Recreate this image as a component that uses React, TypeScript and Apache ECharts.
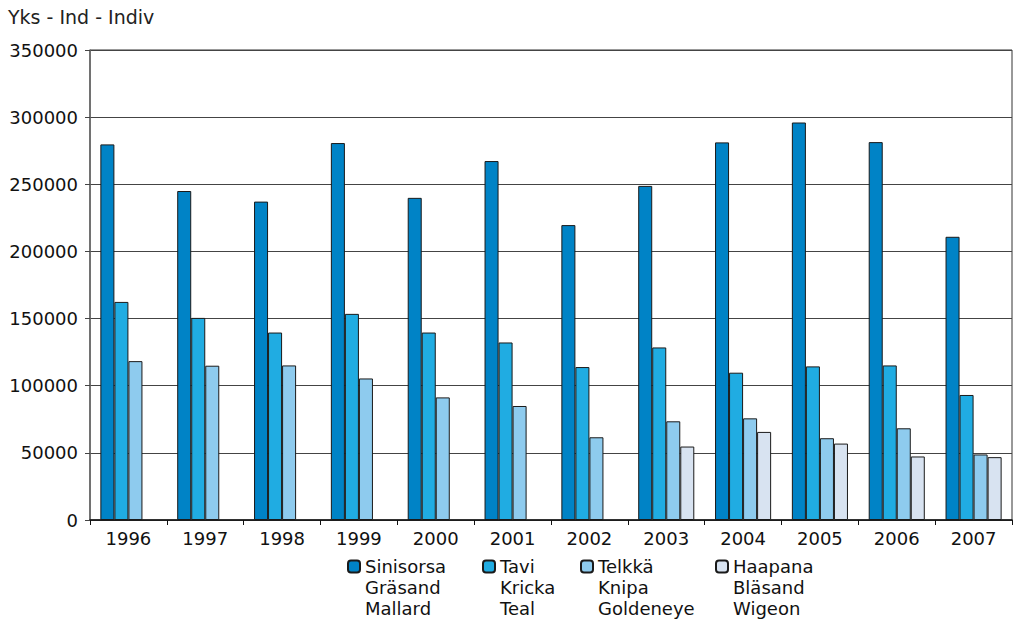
import React, { useEffect, useRef } from "react";
import * as echarts from "echarts";

const years = ["1996", "1997", "1998", "1999", "2000", "2001", "2002", "2003", "2004", "2005", "2006", "2007"];
const sinisorsa = [279700, 245000, 237100, 280700, 239900, 267300, 219600, 248800, 281200, 296000, 281400, 210900];
const tavi = [162400, 150500, 139600, 153500, 139600, 132200, 113900, 128500, 109700, 114400, 115100, 93100];
const telkka = [118300, 114900, 115100, 105400, 91300, 84900, 61600, 73500, 75700, 60900, 68300, 48800];
const haapana = [null, null, null, null, null, null, null, 54700, 65600, 56900, 47300, 46800];

const seriesNames = ["Sinisorsa\nGräsand\nMallard", "Tavi\nKricka\nTeal", "Telkkä\nKnipa\nGoldeneye", "Haapana\nBläsand\nWigeon"];
const seriesColors = ["#0083c6", "#20ace2", "#8ecbee", "#d8e3f1"];
const seriesData = [sinisorsa, tavi, telkka, haapana];
const legendLeft = [347, 482, 580, 715];

const FONT = "DejaVu Sans";

export default function App() {
  const ref = useRef<HTMLDivElement>(null);
  useEffect(() => {
    document.body.style.margin = "0";
    const chart = echarts.init(ref.current!, null, { renderer: "svg" });
    chart.setOption({
      animation: false,
      textStyle: { fontFamily: FONT },
      title: {
        text: "Yks - Ind - Indiv",
        left: 3,
        top: 2,
        textStyle: { fontFamily: FONT, fontSize: 19, fontWeight: "normal", color: "#222" },
      },
      legend: seriesNames.map((n, i) => ({
        data: [n],
        left: legendLeft[i],
        top: 514,
        itemWidth: 12,
        itemHeight: 12,
        itemGap: 0,
        padding: 0,
        formatter: (name: string) => "\n\n" + name,
        textStyle: {
          fontFamily: FONT,
          fontSize: 18,
          color: "#111",
          lineHeight: 21,
        },
      })),
      grid: {
        left: 90,
        right: 4,
        top: 50,
        bottom: 104,
        show: true,
        borderColor: "#333",
        borderWidth: 1,
      },
      xAxis: {
        type: "category",
        data: years,
        axisLine: { lineStyle: { color: "#111", width: 1.5 } },
        axisTick: { show: true, length: 5, lineStyle: { color: "#111" } },
        axisLabel: { fontFamily: FONT, fontSize: 18, color: "#111", margin: 9 },
      },
      yAxis: {
        type: "value",
        min: 0,
        max: 350000,
        interval: 50000,
        axisLine: { show: true, lineStyle: { color: "#666", width: 1.5 } },
        axisTick: { show: true, length: 5, lineStyle: { color: "#444" } },
        axisLabel: { fontFamily: FONT, fontSize: 18, color: "#111", margin: 12, formatter: (v: number) => String(v) },
        splitLine: { lineStyle: { color: "#444", width: 1 } },
      },
      series: seriesNames.map((n, i) => ({
        name: n,
        type: "bar",
        data: seriesData[i],
        barGap: "0%",
        barCategoryGap: "27%",
        itemStyle: { color: seriesColors[i], borderColor: "#1a1a1a", borderWidth: 1 },
      })),
    });
    return () => chart.dispose();
  }, []);
  return <div ref={ref} style={{ width: 1016, height: 624 }} />;
}
